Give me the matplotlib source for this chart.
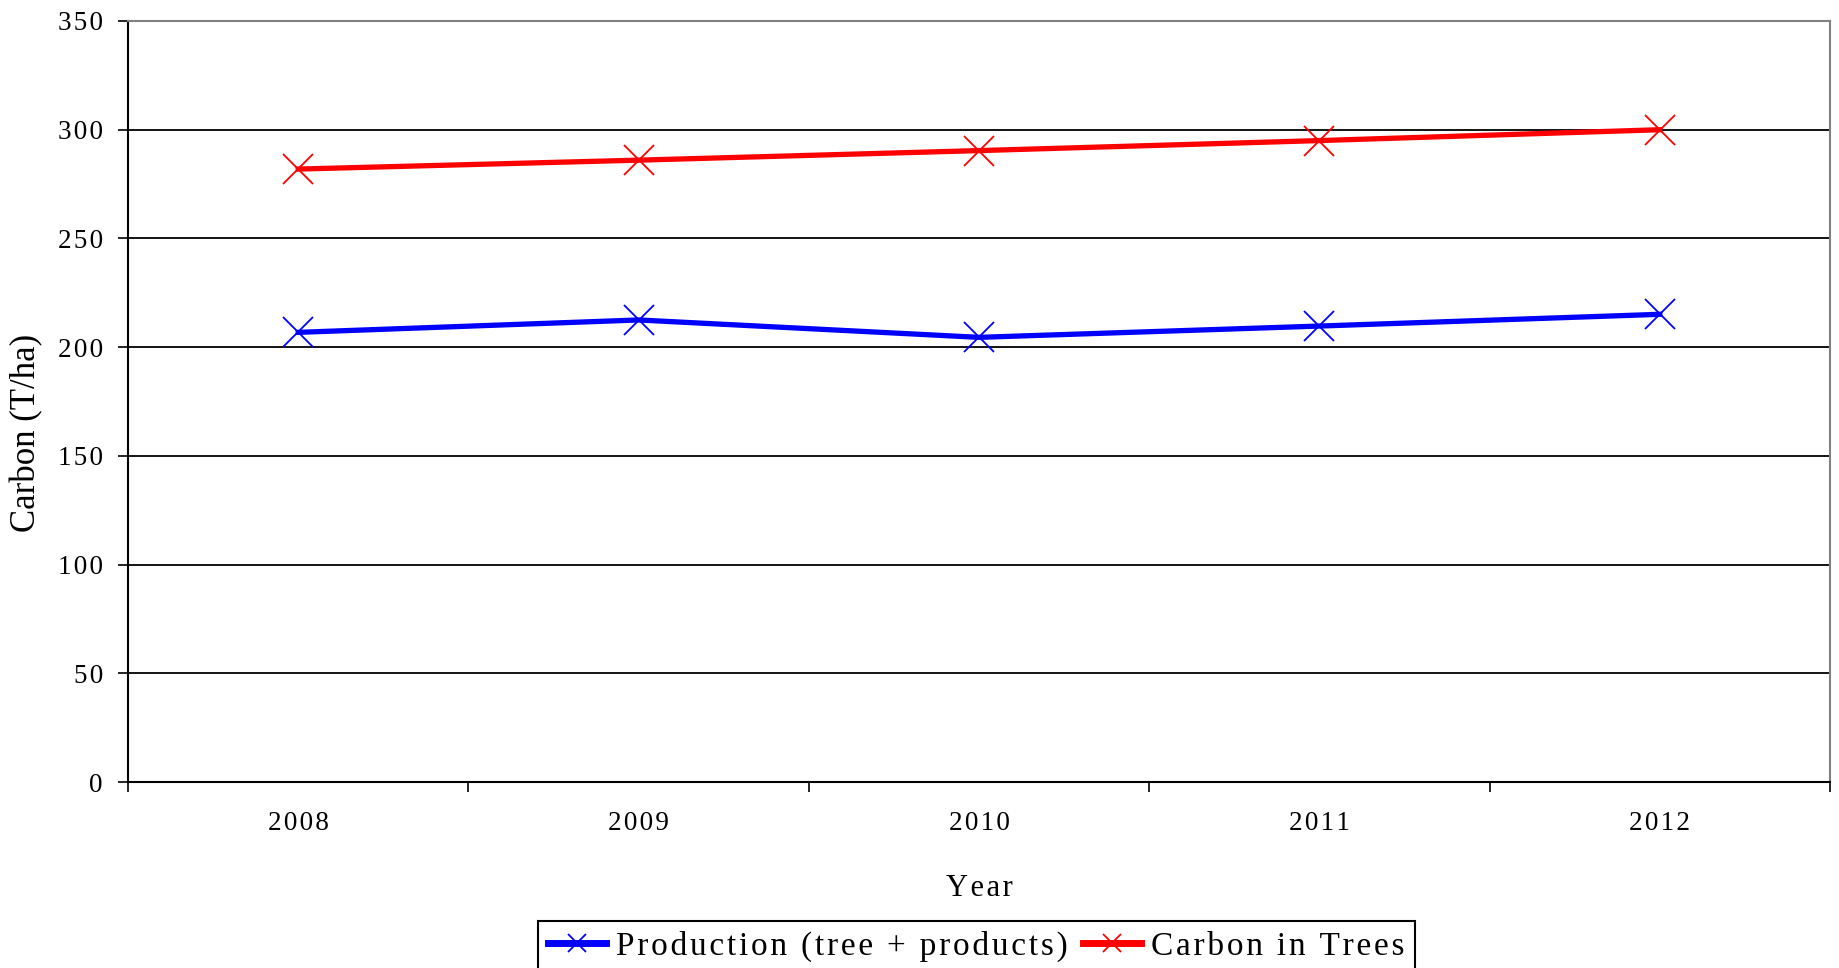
import numpy as np
import matplotlib
matplotlib.use("Agg")
import matplotlib.pyplot as plt

plt.rcParams['font.family'] = ['Liberation Serif', 'DejaVu Serif']

years = ['2008', '2009', '2010', '2011', '2012']
production = [206.8, 212.5, 204.5, 209.7, 215.1]
carbon_trees = [281.9, 286.0, 290.4, 295.0, 300.0]
y_ticks = [0, 50, 100, 150, 200, 250, 300, 350]


def spaced(s):
    # loose tracking: a hair space between every character
    return '\u200a'.join(s)


W, H = 1839, 968
fig = plt.figure(figsize=(W / 100, H / 100), dpi=100)
ax = fig.add_axes([128 / W, 1 - 782 / H, (1830 - 128) / W, (782 - 21) / H])

x = np.arange(len(years))
ax.plot(x, production, color='#0000ff', lw=3.8, marker='x', ms=22, mew=1.3,
        label=spaced('Production (tree + products)'), zorder=3)
ax.plot(x, carbon_trees, color='#ff0000', lw=3.8, marker='x', ms=22, mew=1.3,
        label=spaced('Carbon in Trees'), zorder=3)

ax.set_xlim(-0.5, len(years) - 0.5)
ax.set_ylim(0, 350)

# horizontal gridlines only, drawn as plain black rules
for v in y_ticks[1:-1]:
    ax.axhline(v, color='black', lw=1.3, zorder=1)

ax.set_yticks(y_ticks)
ax.set_yticklabels([spaced(str(v)) for v in y_ticks])
ax.tick_params(axis='y', direction='out', length=7, width=1.2, pad=11,
               labelsize=19.5, colors='black')

# labels sit at category centres, tick marks at category boundaries
ax.set_xticks(x)
ax.set_xticklabels([spaced(y) for y in years])
ax.set_xticks(np.arange(-0.5, len(years)), minor=True)
ax.tick_params(axis='x', which='major', length=0, pad=21, labelsize=19.5)
ax.tick_params(axis='x', which='minor', direction='out', length=7, width=1.2)

for side in ('left', 'bottom'):
    ax.spines[side].set_color('black')
    ax.spines[side].set_linewidth(1.5)
for side in ('top', 'right'):
    ax.spines[side].set_color('#808080')
    ax.spines[side].set_linewidth(1.5)

ax.set_ylabel('Carbon (T/ha)', fontsize=25)
ax.yaxis.set_label_coords(-0.0593, 0.4586)
ax.yaxis.label.set_va('center')
ax.set_xlabel(spaced('Year'), fontsize=22)
ax.xaxis.set_label_coords(0.5, -0.1406)
ax.xaxis.label.set_va('center')

leg = fig.legend(loc='upper left', bbox_to_anchor=(538 / W, 1 - 921 / H),
                 bbox_transform=fig.transFigure, ncol=2, fontsize=24,
                 frameon=True, fancybox=False, framealpha=1, edgecolor='black',
                 borderpad=0.3, borderaxespad=0, handlelength=1.75,
                 handletextpad=0.3, columnspacing=0.45, markerscale=0.6)
leg.get_frame().set_linewidth(1.5)
for h in leg.legend_handles:
    h.set_linewidth(5)

fig.savefig('out.png', dpi=100)
